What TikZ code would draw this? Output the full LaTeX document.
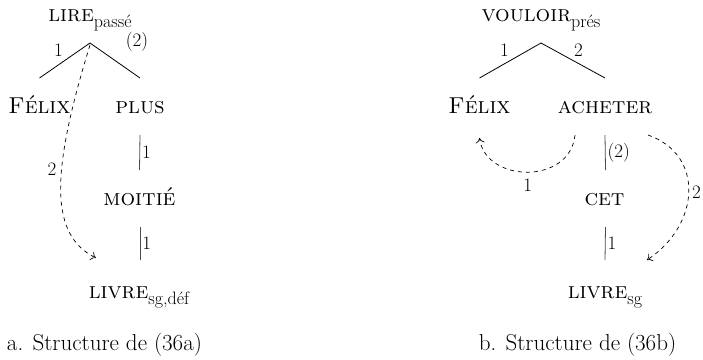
\documentclass[tikz,border=0pt]{standalone}
\usepackage{fontspec}
\usepackage{tikz}
\usetikzlibrary{arrows.meta,positioning}
\newcommand{\feat}[1]{\raisebox{-6pt}{\fontsize{18}{20}\selectfont #1}}
\tikzset{
  word/.style={inner sep=0pt,anchor=base,font=\fontsize{23}{27}\selectfont},
  caption/.style={word},
  tree/.style={line width=0.8pt},
  link/.style={line width=0.8pt,draw=black!70},
  deplab/.style={inner sep=2pt,font=\fontsize{19}{22}\selectfont},
  coref/.style={-{To[length=5pt,width=9pt]},line width=0.7pt,dash pattern=on 4pt off 4pt}
}
\begin{document}
\begin{tikzpicture}[x=1pt,y=1pt]
  \useasboundingbox (0,0) rectangle (703,-359);
  % structure (a)
  \node[word] (lireA) at (90,-21) {\textsc{lire}\feat{passé}};
  \node[word] (felixA) at (39.5,-113) {\textsc{Félix}};
  \node[word] (plusA) at (140,-113) {\textsc{plus}};
  \node[word] (moitieA) at (139.5,-205) {\textsc{moitié}};
  \node[word] (livreA) at (139,-298) {\textsc{livre}\feat{sg,déf}};
  \node[caption] (capA) at (104.5,-350) {a. Structure de (36a)};
  \draw[tree] ([yshift=-22pt]lireA.base) -- node[deplab,pos=.45,above left,xshift=-2pt]{1} ([yshift=35pt]felixA.base);
  \draw[tree] ([yshift=-22pt]lireA.base) -- node[deplab,pos=.25,above right,xshift=21pt,yshift=-2pt]{(2)} ([yshift=35pt]plusA.base);
  \draw[link] ([yshift=-22pt]plusA.base) -- node[deplab,right]{1} ([yshift=35pt]moitieA.base);
  \draw[link] ([xshift=.5pt,yshift=-22pt]moitieA.base) -- node[deplab,right]{1} ([xshift=1pt,yshift=38pt]livreA.base);
  \draw[coref] ([yshift=-24pt]lireA.base) .. controls +(-40,-130) and +(-46,23) .. node[deplab,pos=.4,left,xshift=-3pt]{2} ([xshift=-43pt,yshift=40pt]livreA.base);
  % structure (b)
  \node[word] (vouloirB) at (541,-21) {\textsc{vouloir}\feat{prés}};
  \node[word] (felixB) at (479.5,-113) {\textsc{Félix}};
  \node[word] (acheterB) at (605,-113) {\textsc{acheter}};
  \node[word] (cetB) at (604.5,-205) {\textsc{cet}};
  \node[word] (livreB) at (605,-298) {\textsc{livre}\feat{sg}};
  \node[caption] (capB) at (577.5,-350) {b. Structure de (36b)};
  \draw[tree] ([yshift=-22pt]vouloirB.base) -- node[deplab,pos=.45,above left,xshift=-2pt]{1} ([yshift=35pt]felixB.base);
  \draw[tree] ([yshift=-22pt]vouloirB.base) -- node[deplab,pos=.45,above right,xshift=2pt]{2} ([yshift=35pt]acheterB.base);
  \draw[link] ([yshift=-22pt]acheterB.base) -- node[deplab,right]{(2)} ([yshift=35pt,xshift=1pt]cetB.base);
  \draw[link] ([yshift=-22pt,xshift=1pt]cetB.base) -- node[deplab,right]{1} ([yshift=38pt]livreB.base);
  \draw[coref] ([xshift=-30pt,yshift=-22pt]acheterB.base) .. controls +(-5,-50) and +(6,-45) .. node[deplab,pos=.5,below,yshift=-4pt]{1} ([yshift=-25pt]felixB.base);
  \draw[coref] ([xshift=43pt,yshift=-22pt]acheterB.base) .. controls +(57,-20) and +(53,35) .. node[deplab,pos=.5,right,xshift=1pt]{2} ([xshift=42pt,yshift=38pt]livreB.base);
\end{tikzpicture}
\end{document}
